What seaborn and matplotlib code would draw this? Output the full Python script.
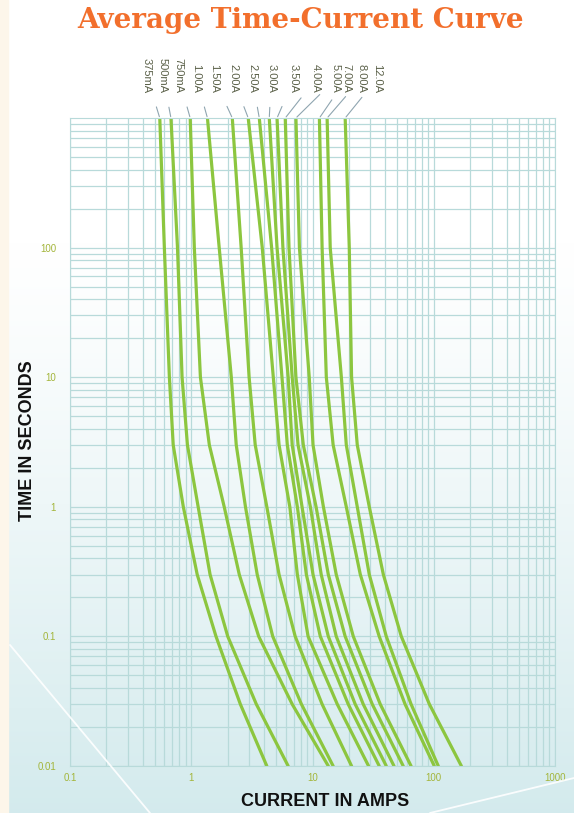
import numpy as np
import pandas as pd
import matplotlib
matplotlib.use("Agg")
import matplotlib.pyplot as plt
import seaborn as sns
from matplotlib.patches import Rectangle
from matplotlib.lines import Line2D

# fuse ratings shown on top of the chart
fuse_labels = ["375mA", "500mA", "750mA", "1.00A", "1.50A", "2.00A", "2.50A",
               "3.00A", "3.50A", "4.00A", "5.00A", "7.00A", "8.00A", "12.0A"]

# times (s) at which the curves were read
time_points = [1000, 100, 10, 3, 1, 0.3, 0.1, 0.03, 0.01]

# current (A) of each curve at those times
amps_375mA = [0.55, 0.60, 0.66, 0.71, 0.86, 1.12, 1.6, 2.54, 4.2]
amps_500mA = [0.68, 0.77, 0.84, 0.93, 1.14, 1.43, 2.0, 3.44, 6.3]
amps_750mA = [0.98, 1.06, 1.19, 1.41, 1.87, 2.49, 3.6, 6.8, 13.5]
amps_1A = [1.36, 1.70, 2.14, 2.35, 2.8, 3.5, 4.7, 8.1, 14.8]
amps_1p5A = [2.18, 2.58, 3.0, 3.37, 4.2, 5.3, 7.2, 12.0, 21]
amps_2A = [2.95, 3.85, 4.75, 5.3, 6.5, 7.5, 9.2, 16.0, 29]
amps_2p5A = [3.64, 4.6, 5.6, 6.2, 7.5, 8.9, 11.6, 19.7, 35.5]
amps_3A = [4.4, 5.1, 6.3, 6.8, 8.2, 10.1, 13.5, 22.5, 40.6]
amps_3p5A = [5.1, 5.7, 6.8, 7.6, 9.6, 11.8, 15.7, 26.2, 47]
amps_4A = [5.96, 6.4, 7.3, 8.4, 10.7, 13.5, 18.6, 31.1, 56]
amps_5A = [7.3, 7.8, 9.4, 10.1, 12.3, 15.7, 21.7, 36.2, 65]
amps_7A = [11.4, 12.0, 13.0, 14.8, 19.0, 24.8, 35.5, 58, 101]
amps_8A = [13.2, 14.0, 17.3, 19.0, 23.4, 29.4, 40.6, 65, 109]
amps_12A = [18.6, 20.1, 21, 23.4, 29.4, 38.4, 54, 92, 169]

all_amps = [amps_375mA, amps_500mA, amps_750mA, amps_1A, amps_1p5A, amps_2A,
            amps_2p5A, amps_3A, amps_3p5A, amps_4A, amps_5A, amps_7A, amps_8A,
            amps_12A]

# horizontal offset of each label from its curve top (pixels)
label_offsets_px = [-13, -8, -12, -11, -18, -15, -7, 2, 17, 31, 40, 27, 34, 32]

rows = []
for label, amps in zip(fuse_labels, all_amps):
    for t, a in zip(time_points, amps):
        rows.append({"fuse": label, "amps": a, "seconds": t})
df = pd.DataFrame(rows)

W, H = 574, 813
sns.set_style("white")
plt.rcParams["font.family"] = ["Liberation Sans", "DejaVu Sans"]

fig = plt.figure(figsize=(W / 100, H / 100), dpi=100)
fig.patch.set_facecolor("white")

# background: white fading to pale blue, cream strip on the left
bg = fig.add_axes([0, 0, 1, 1], zorder=-10)
bg.set_axis_off()
top = np.array([1.0, 1.0, 1.0])
bottom = np.array([0.83, 0.92, 0.93])
frac = np.clip((np.linspace(0, 1, H) - 0.3) / 0.7, 0, 1) ** 1.2
grad = top[None, :] * (1 - frac[:, None]) + bottom[None, :] * frac[:, None]
bg.imshow(grad[:, None, :], aspect="auto", extent=[0, 1, 0, 1])
bg.set_xlim(0, 1)
bg.set_ylim(0, 1)
fig.patches.append(Rectangle((0, 0), 8 / W, 1, transform=fig.transFigure,
                             color="#fdf6ea", zorder=-5))
fig.lines.append(Line2D([10 / W, 150 / W], [1 - 645 / H, 0], transform=fig.transFigure,
                        color="white", lw=1.3, alpha=0.9))
fig.lines.append(Line2D([430 / W, 1], [0, 1 - 778 / H], transform=fig.transFigure,
                        color="white", lw=1.3, alpha=0.9))

ax = fig.add_axes([70 / W, 1 - 766 / H, 485 / W, 648 / H])
ax.patch.set_alpha(0)
ax.set_xscale("log")
ax.set_yscale("log")

green = "#8cc63f"
sns.lineplot(data=df, x="amps", y="seconds", units="fuse", estimator=None,
             sort=False, color=green, lw=2.3, ax=ax, legend=False)

ax.set_xlim(0.1, 1000)
ax.set_ylim(0.01, 1000)
grid_color = "#b8dada"
ax.grid(which="both", color=grid_color, lw=0.9)
for s in ax.spines.values():
    s.set_color(grid_color)
ax.set_xticks([0.1, 1, 10, 100, 1000])
ax.set_xticklabels(["0.1", "1", "10", "100", "1000"])
ax.set_yticks([0.01, 0.1, 1, 10, 100])
ax.set_yticklabels(["0.01", "0.1", "1", "10", "100"])
ax.tick_params(which="both", length=0, labelsize=7, labelcolor="#a3b53a")
ax.tick_params(axis="x", pad=5)
ax.tick_params(axis="y", pad=10)
ax.set_xlabel("")
ax.set_ylabel("")

# fuse labels with leader lines to the top of each curve
for label, amps, off in zip(fuse_labels, all_amps, label_offsets_px):
    ax.annotate(label, xy=(amps[0], 1000), xycoords="data",
                xytext=(off * 0.72, 18), textcoords="offset points",
                rotation=270, ha="center", va="bottom", fontsize=8,
                color="#5a6048",
                arrowprops=dict(arrowstyle="-", color="#8fa5b0", lw=0.8,
                                shrinkA=8, shrinkB=1))

fig.text(28 / W, 1 - 441 / H, "TIME IN SECONDS", rotation=90, ha="center",
         va="center", fontsize=13, fontweight="bold", color="#111111")
fig.text(325 / W, 1 - 801 / H, "CURRENT IN AMPS", ha="center", va="center",
         fontsize=13, fontweight="bold", color="#111111")
fig.text(301 / W, 1 - 20 / H, "Average Time-Current Curve", ha="center",
         va="center", fontsize=20, fontweight="bold", color="#f26f2c",
         family="DejaVu Serif")

fig.savefig("out.png", dpi=100)
